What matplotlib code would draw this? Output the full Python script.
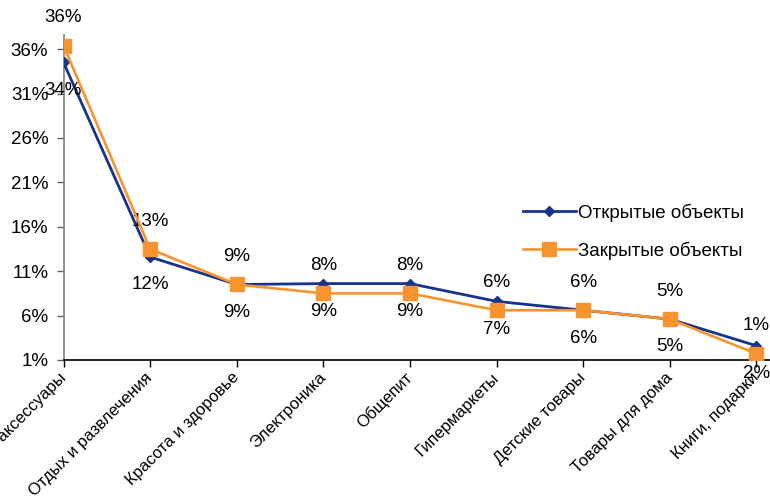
import math
import matplotlib
matplotlib.use("Agg")
import matplotlib.pyplot as plt
from matplotlib.ticker import FixedLocator, FuncFormatter

plt.rcParams["font.family"] = ["Liberation Sans", "DejaVu Sans"]

CATEGORIES = [
    "Одежда, обувь и аксессуары",
    "Отдых и развлечения",
    "Красота и здоровье",
    "Электроника",
    "Общепит",
    "Гипермаркеты",
    "Детские товары",
    "Товары для дома",
    "Книги, подарки",
]
OPENED = [34.0, 12.1, 9.0, 9.1, 9.1, 7.1, 6.1, 5.1, 2.1]
CLOSED = [35.9, 13.0, 9.0, 8.0, 8.0, 6.1, 6.1, 5.1, 1.2]
SERIES_NAMES = ["Открытые объекты", "Закрытые объекты"]
Y_TICKS = [0.5, 5.5, 10.5, 15.5, 20.5, 25.5, 30.5, 35.5]

BLUE = "#17338c"
ORANGE = "#f7942f"
FS = 13.5

fig = plt.figure(figsize=(7.7, 4.99), dpi=100)
ax = fig.add_axes([0.0825, 0.2786, 0.9175, 0.6514])

x = list(range(len(CATEGORIES)))
ax.plot(x, OPENED, "-", color=BLUE, linewidth=2.0, marker="D",
        markersize=5.5, label=SERIES_NAMES[0], zorder=3)
ax.plot(x, CLOSED, "-", color=ORANGE, linewidth=1.9, marker="s",
        markersize=10, label=SERIES_NAMES[1], zorder=4)

# closed-store labels sit above their points, opened-store labels below
for xi, v in zip(x, CLOSED):
    ax.annotate(f"{v:.0f}%", (xi, v), xytext=(0, 20), textcoords="offset points",
                ha="center", va="center", fontsize=FS, annotation_clip=False)
for xi, v in zip(x, OPENED):
    ax.annotate(f"{v:.0f}%", (xi, v), xytext=(0, -20), textcoords="offset points",
                ha="center", va="center", fontsize=FS, annotation_clip=False)

ax.set_xlim(0, 8.156)
ax.set_ylim(0.5, 37.1)
ax.yaxis.set_major_locator(FixedLocator(Y_TICKS))
ax.yaxis.set_major_formatter(FuncFormatter(lambda v, _: f"{math.floor(v + 0.5):d}%"))
ax.set_xticks(x)
ax.set_xticklabels(CATEGORIES, rotation=45, ha="right", va="center",
                   rotation_mode="anchor", fontsize=12)
ax.tick_params(axis="x", direction="out", length=5, width=1, pad=6)
ax.tick_params(axis="y", direction="out", length=5, width=1, labelsize=FS,
               pad=6, color="#606060")

for side in ("top", "right"):
    ax.spines[side].set_visible(False)
ax.spines["left"].set_color("#808080")
ax.spines["left"].set_linewidth(1.2)
ax.spines["bottom"].set_color("black")
ax.spines["bottom"].set_linewidth(1.2)

ax.legend(loc="upper left", bbox_to_anchor=(0.64, 0.505), frameon=False,
          fontsize=FS, handlelength=2.8, handletextpad=0.15,
          labelspacing=1.05, borderaxespad=0)

fig.savefig("out.png", dpi=100)
